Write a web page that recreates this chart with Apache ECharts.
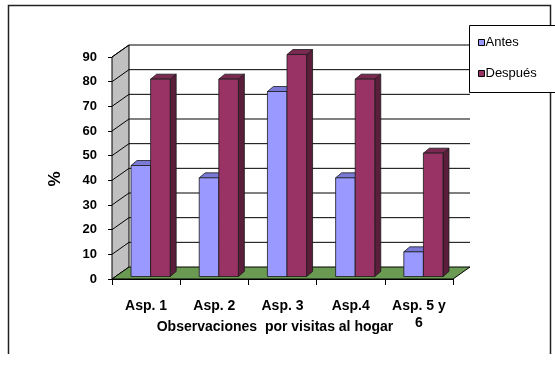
<!DOCTYPE html>
<html>
<head>
<meta charset="utf-8">
<script src="https://cdn.jsdelivr.net/npm/echarts@6/dist/echarts.min.js"></script>
<style>html,body{margin:0;padding:0;background:#fff;}#c{width:555px;height:366px;}</style>
</head>
<body>
<div id="c"></div>
<script>
const categories = ['Asp. 1', 'Asp. 2', 'Asp. 3', 'Asp.4', 'Asp. 5 y\n6'];
const antes = [45, 40, 75, 40, 10];
const despues = [80, 80, 90, 80, 50];
const seriesNames = ['Antes', 'Después'];
const yTicks = [0, 10, 20, 30, 40, 50, 60, 70, 80, 90];
const xTitle = 'Observaciones  por visitas al hogar';
const yTitle = '%';

const FONT = "'Liberation Sans', Arial, sans-serif";
const DX = 17, DY = -12;      // wall depth
const BX = 3.5, BY = -2.5;    // bar plane offset
const SX = 6, SY = -5;        // bar depth
const colors = [
  { front: '#9999ff', top: '#7a7ad6', side: '#5c5cb0' },
  { front: '#993366', top: '#7a2951', side: '#5a1e3b' }
];

function renderWalls(params, api) {
  const bw = api.size([1, 0])[0];
  const x0 = api.coord([0, 0])[0] - bw / 2;
  const x1 = x0 + bw * categories.length;
  const y = v => api.coord([0, v])[1];
  const yMax = yTicks[yTicks.length - 1];
  const ch = [];
  ch.push({ type: 'polygon', shape: { points: [[x0, y(0)], [x0, y(yMax)], [x0 + DX, y(yMax) + DY], [x0 + DX, y(0) + DY]] },
    style: { fill: '#c0c0c0', stroke: '#000', lineWidth: 1 } });
  ch.push({ type: 'polygon', shape: { points: [[x0, y(0)], [x1, y(0)], [x1 + DX, y(0) + DY], [x0 + DX, y(0) + DY]] },
    style: { fill: '#6b9a52', stroke: '#000', lineWidth: 1 } });
  yTicks.forEach(v => {
    if (v === 0) return;
    ch.push({ type: 'line', shape: { x1: x0, y1: y(v), x2: x0 + DX, y2: y(v) + DY }, style: { stroke: '#000', lineWidth: 1 } });
    ch.push({ type: 'line', shape: { x1: x0 + DX, y1: y(v) + DY, x2: x1 + DX, y2: y(v) + DY }, style: { stroke: '#000', lineWidth: 1 } });
  });
  return { type: 'group', children: ch };
}

function makeBarRenderer(s) {
  return function (params, api) {
    const idx = api.value(0), val = api.value(1);
    const bw = api.size([1, 0])[0];
    const cx = api.coord([idx, 0])[0];
    const yb = api.coord([idx, 0])[1] + BY;
    const yt = api.coord([idx, val])[1] + BY;
    const w = bw * 0.287, shift = bw * 0.066;
    const xl = s === 0 ? cx + shift - w : cx + shift;
    const xr = xl + w;
    const c = colors[s];
    const st = { stroke: '#1a1a1a', lineWidth: 0.8 };
    return { type: 'group', children: [
      { type: 'polygon', shape: { points: [[xr, yb], [xr + SX, yb + SY], [xr + SX, yt + SY], [xr, yt]] }, style: Object.assign({ fill: c.side }, st) },
      { type: 'polygon', shape: { points: [[xl, yt], [xr, yt], [xr + SX, yt + SY], [xl + SX, yt + SY]] }, style: Object.assign({ fill: c.top }, st) },
      { type: 'polygon', shape: { points: [[xl, yb], [xr, yb], [xr, yt], [xl, yt]] }, style: Object.assign({ fill: c.front }, st) }
    ] };
  };
}

const chart = echarts.init(document.getElementById('c'), null, { renderer: 'canvas' });
chart.setOption({
  animation: false,
  backgroundColor: '#fff',
  textStyle: { fontFamily: FONT },
  grid: { left: 112, top: 57, width: 341, height: 222, containLabel: false },
  xAxis: {
    type: 'category', data: categories, boundaryGap: true,
    axisLine: { show: true, lineStyle: { color: '#000', width: 1 } },
    axisTick: { show: true, inside: false, length: 6, alignWithLabel: false, lineStyle: { color: '#000' } },
    axisLabel: { color: '#000', fontWeight: 'bold', fontSize: 14, margin: 19, lineHeight: 17, interval: 0, fontFamily: FONT },
    name: xTitle, nameLocation: 'middle', nameGap: 41, nameMoveOverlap: false,
    nameTextStyle: { color: '#000', fontWeight: 'bold', fontSize: 14, fontFamily: FONT, padding: [0, 15, 0, 0] },
    splitLine: { show: false }
  },
  yAxis: {
    type: 'value', min: 0, max: 90, interval: 10,
    axisLine: { show: true, lineStyle: { color: '#000', width: 1 } },
    axisTick: { show: true, inside: false, length: 4, lineStyle: { color: '#000' } },
    axisLabel: { color: '#000', fontWeight: 'bold', fontSize: 13, margin: 15, fontFamily: FONT },
    splitLine: { show: false }
  },
  legend: {
    orient: 'vertical', left: 478, top: 36, padding: 0, itemGap: 18,
    itemWidth: 6, itemHeight: 6, icon: 'rect', itemStyle: { borderColor: '#000', borderWidth: 1 },
    textStyle: { color: '#000', fontSize: 13, fontFamily: FONT, padding: [0, 0, 0, -4] },
    data: [
      { name: seriesNames[0], itemStyle: { color: colors[0].front } },
      { name: seriesNames[1], itemStyle: { color: colors[1].front } }
    ]
  },
  graphic: [
    { type: 'polyline', shape: { points: [[8.5, 354], [8.5, 5.5], [550.5, 5.5], [550.5, 354]] }, style: { stroke: '#222', lineWidth: 1.5, fill: null }, z: 1 },
    { type: 'rect', shape: { x: 469.5, y: 25.5, width: 120, height: 67 }, style: { fill: '#fff', stroke: '#000', lineWidth: 1 }, z: 3 },
    { type: 'text', x: 55, y: 179, rotation: Math.PI / 2, style: { text: yTitle, font: 'bold 17px ' + FONT, fill: '#000', align: 'center', verticalAlign: 'middle' }, z: 5 }
  ],
  series: [
    { type: 'custom', name: '_walls', renderItem: renderWalls, data: [[0, 0]], z: 1, silent: true },
    { type: 'custom', name: seriesNames[0], renderItem: makeBarRenderer(0), data: antes.map((v, i) => [i, v]), z: 2,
      itemStyle: { color: colors[0].front } },
    { type: 'custom', name: seriesNames[1], renderItem: makeBarRenderer(1), data: despues.map((v, i) => [i, v]), z: 3,
      itemStyle: { color: colors[1].front } }
  ]
});
</script>
</body>
</html>
